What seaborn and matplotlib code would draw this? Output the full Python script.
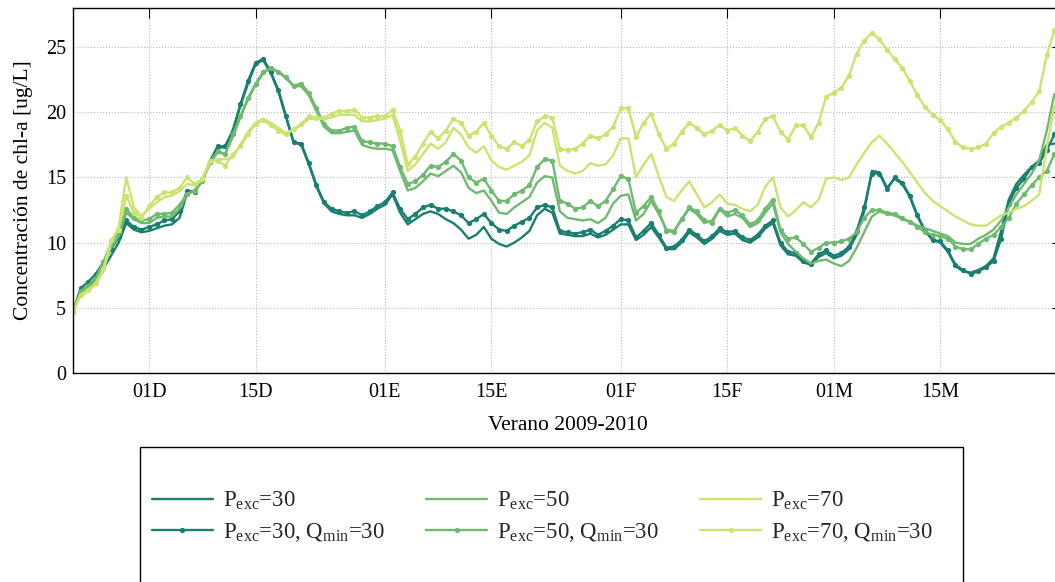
import matplotlib
matplotlib.use("Agg")
import numpy as np
import pandas as pd
import seaborn as sns
import matplotlib.pyplot as plt
from matplotlib.lines import Line2D
from matplotlib.patches import Rectangle

sns.set_theme(style="white")
plt.rcParams["font.family"] = ["Liberation Serif", "DejaVu Serif"]
plt.rcParams["mathtext.fontset"] = "custom"
plt.rcParams["mathtext.rm"] = "Liberation Serif"
plt.rcParams["mathtext.it"] = "Liberation Serif:italic"

# ---------------- data ----------------
dates = pd.date_range("2009-11-21", periods=130, freq="D")

tick_dates = pd.to_datetime(["2009-12-01", "2009-12-15", "2010-01-01", "2010-01-15",
                             "2010-02-01", "2010-02-15", "2010-03-01", "2010-03-15"])
tick_labels = ["01D", "15D", "01E", "15E", "01F", "15F", "01M", "15M"]
y_ticks = [0, 5, 10, 15, 20, 25]

labels = [r"P$_{\rm exc}$=30", r"P$_{\rm exc}$=30, Q$_{\rm min}$=30",
          r"P$_{\rm exc}$=50", r"P$_{\rm exc}$=50, Q$_{\rm min}$=30",
          r"P$_{\rm exc}$=70", r"P$_{\rm exc}$=70, Q$_{\rm min}$=30"]

p30 = [4.7, 6.2, 6.6, 7.1, 8.0, 9.0, 10.0, 11.5, 11.0, 10.8,
       10.9, 11.1, 11.3, 11.4, 11.9, 13.8, 14.0, 14.8, 16.2, 17.3,
       17.3, 18.5, 20.5, 22.2, 23.7, 24.0, 23.0, 21.6, 19.6, 17.7,
       17.5, 16.0, 14.3, 13.0, 12.4, 12.2, 12.1, 12.1, 11.9, 12.2,
       12.6, 12.9, 13.7, 12.3, 11.4, 11.8, 12.2, 12.4, 12.2, 11.8,
       11.5, 11.0, 10.3, 10.6, 11.2, 10.3, 9.9, 9.7, 10.0, 10.4,
       10.9, 12.1, 12.6, 12.3, 10.7, 10.6, 10.5, 10.5, 10.7, 10.4,
       10.6, 11.0, 11.4, 11.4, 10.2, 10.6, 11.2, 10.4, 9.5, 9.5,
       10.0, 10.8, 10.4, 9.9, 10.3, 10.9, 10.6, 10.7, 10.2, 10.0,
       10.4, 11.1, 11.5, 9.8, 9.1, 9.0, 8.5, 8.3, 8.9, 9.2,
       8.8, 9.0, 9.5, 10.6, 12.4, 15.5, 15.4, 14.2, 14.9, 14.5,
       13.5, 12.0, 10.9, 10.2, 10.0, 9.3, 8.2, 7.8, 7.7, 7.9,
       8.2, 8.8, 10.9, 13.3, 14.5, 15.2, 15.8, 16.3, 17.5, 17.6]

p30_q30 = [4.7, 6.5, 7.0, 7.6, 8.5, 9.5, 10.4, 11.7, 11.2, 11.0,
           11.2, 11.4, 11.7, 11.8, 12.4, 14.0, 13.9, 14.8, 16.2, 17.4,
           17.4, 18.6, 20.6, 22.4, 23.8, 24.1, 23.1, 21.7, 19.7, 17.7,
           17.6, 16.1, 14.4, 13.1, 12.6, 12.4, 12.3, 12.4, 12.1, 12.4,
           12.8, 13.1, 13.85, 12.6, 11.8, 12.2, 12.7, 12.9, 12.6, 12.6,
           12.4, 12.1, 11.5, 11.8, 12.2, 11.5, 11.0, 10.9, 11.3, 11.6,
           11.9, 12.7, 12.9, 12.7, 10.9, 10.8, 10.7, 10.8, 11.0, 10.6,
           10.9, 11.3, 11.8, 11.7, 10.4, 10.9, 11.5, 10.6, 9.6, 9.7,
           10.2, 11.0, 10.6, 10.1, 10.5, 11.1, 10.8, 10.9, 10.4, 10.2,
           10.6, 11.3, 11.7, 10.0, 9.3, 9.2, 8.6, 8.4, 9.1, 9.4,
           9.0, 9.2, 9.7, 10.9, 12.7, 15.3, 15.3, 14.1, 15.0, 14.6,
           13.6, 12.1, 10.9, 10.2, 10.1, 9.4, 8.3, 7.9, 7.6, 7.8,
           8.1, 8.6, 10.3, 13.0, 14.2, 14.9, 15.8, 16.1, 17.1, 18.3]

p50 = [4.7, 6.1, 6.5, 7.0, 8.2, 9.6, 10.5, 12.3, 11.8, 11.5,
       11.5, 11.9, 12.0, 12.0, 12.6, 13.7, 14.0, 14.7, 16.1, 16.9,
       16.8, 18.1, 19.6, 21.0, 22.1, 23.0, 23.4, 23.1, 22.6, 22.0,
       22.0, 21.3, 20.1, 18.9, 18.4, 18.4, 18.5, 18.6, 17.5, 17.3,
       17.2, 17.2, 17.1, 15.5, 14.0, 14.2, 14.7, 15.3, 15.1, 15.5,
       15.9, 15.4, 14.2, 13.8, 14.0, 13.2, 12.3, 12.2, 12.7, 13.1,
       13.5, 14.6, 15.1, 15.0, 12.4, 11.9, 11.8, 11.7, 11.8, 11.5,
       11.9, 13.0, 13.6, 13.7, 11.7, 12.2, 13.2, 12.2, 11.0, 10.9,
       11.8, 12.6, 12.2, 11.5, 11.7, 12.6, 12.0, 12.2, 11.9, 11.2,
       11.5, 12.3, 13.0, 10.8, 9.9, 9.3, 8.8, 8.4, 8.6, 8.7,
       8.4, 8.2, 8.6, 9.6, 10.8, 12.0, 12.4, 12.2, 12.1, 11.8,
       11.6, 11.3, 11.1, 10.9, 10.7, 10.5, 10.0, 9.9, 9.9, 10.3,
       10.6, 11.0, 11.7, 12.7, 13.7, 14.5, 15.3, 16.3, 18.6, 21.4]

p50_q30 = [4.7, 6.3, 6.7, 7.3, 8.5, 10.0, 10.8, 12.6, 11.9, 11.7,
           11.8, 12.2, 12.2, 12.3, 12.9, 13.7, 14.0, 14.7, 16.2, 17.0,
           16.8, 18.3, 19.7, 21.1, 22.2, 23.1, 23.4, 23.1, 22.7, 22.05,
           22.2, 21.5, 20.3, 19.1, 18.6, 18.6, 18.8, 18.9, 17.8, 17.7,
           17.6, 17.6, 17.4, 15.8, 14.5, 14.7, 15.2, 15.9, 15.8, 16.2,
           16.8, 16.3, 15.0, 14.6, 14.9, 14.0, 13.2, 13.2, 13.7, 14.0,
           14.4, 15.8, 16.4, 16.3, 13.2, 13.0, 12.6, 12.7, 13.2, 12.8,
           13.2, 14.1, 15.1, 14.9, 12.3, 12.8, 13.5, 12.4, 10.9, 10.8,
           11.8, 12.7, 12.4, 11.7, 11.5, 12.6, 12.3, 12.5, 12.1, 11.4,
           11.7, 12.6, 13.3, 11.0, 10.3, 10.4, 9.9, 9.3, 9.6, 10.0,
           10.0, 10.1, 10.3, 10.8, 11.9, 12.5, 12.5, 12.3, 12.2, 11.9,
           11.6, 11.2, 10.8, 10.6, 10.5, 10.3, 9.7, 9.5, 9.5, 9.9,
           10.3, 10.6, 11.2, 11.9, 13.0, 13.7, 14.4, 15.0, 15.5, 16.8]

p70 = [4.7, 5.9, 6.3, 6.8, 7.8, 10.0, 11.2, 15.0, 12.7, 12.05,
       12.6, 13.1, 13.5, 13.6, 13.95, 14.5, 14.4, 14.8, 16.2, 16.4,
       16.4, 16.5, 17.5, 18.5, 19.2, 19.5, 19.2, 18.8, 18.4, 18.7,
       19.0, 19.5, 19.5, 19.5, 19.6, 19.8, 19.8, 19.8, 19.3, 19.3,
       19.4, 19.5, 19.8, 17.8, 15.5, 16.0, 16.8, 17.6, 17.2, 17.7,
       18.8, 18.3, 17.3, 16.9, 17.4, 16.3, 15.8, 15.6, 15.9, 16.2,
       16.7, 18.6, 19.2, 18.8, 15.9, 15.5, 15.3, 15.5, 16.1, 15.9,
       16.0, 16.7, 18.0, 18.0, 15.0, 16.0, 16.8, 15.1, 13.5, 13.2,
       14.0, 14.7, 13.7, 12.7, 13.1, 13.7, 13.0, 12.9, 12.6, 12.4,
       12.9, 14.3, 15.0, 12.7, 12.0, 12.5, 13.1, 12.7, 13.3, 14.9,
       15.0, 14.8, 15.0, 16.0, 16.9, 17.7, 18.2, 17.6, 16.9, 16.2,
       15.4, 14.6, 13.8, 13.2, 12.8, 12.4, 12.0, 11.7, 11.4, 11.3,
       11.3, 11.7, 12.1, 12.3, 12.6, 12.8, 13.2, 13.7, 17.3, 20.5]

p70_q30 = [4.7, 6.0, 6.4, 6.9, 8.0, 10.2, 11.0, 13.6, 12.3, 11.9,
           12.8, 13.5, 13.85, 13.85, 14.2, 15.0, 14.5, 14.9, 16.3, 16.3,
           15.9, 16.8, 17.4, 18.3, 19.1, 19.4, 19.0, 18.6, 18.3, 18.7,
           19.1, 19.7, 19.6, 19.6, 19.9, 20.1, 20.1, 20.2, 19.6, 19.6,
           19.7, 19.7, 20.2, 18.6, 16.0, 16.6, 17.6, 18.5, 18.0, 18.6,
           19.5, 19.2, 18.2, 18.5, 19.2, 18.2, 17.4, 17.2, 17.7, 17.4,
           17.9, 19.3, 19.7, 19.6, 17.2, 17.1, 17.2, 17.6, 18.2, 18.0,
           18.3, 18.9, 20.3, 20.3, 18.1, 19.2, 19.9, 18.3, 17.2, 17.6,
           18.5, 19.2, 18.8, 18.3, 18.6, 19.0, 18.6, 18.8, 18.2, 17.8,
           18.5, 19.5, 19.7, 18.5, 17.9, 19.0, 19.0, 18.1, 19.2, 21.2,
           21.5, 21.9, 22.8, 24.5, 25.5, 26.1, 25.6, 24.8, 24.1, 23.4,
           22.4, 21.3, 20.4, 19.8, 19.4, 18.7, 17.7, 17.3, 17.2, 17.3,
           17.6, 18.4, 18.9, 19.2, 19.6, 20.1, 20.8, 21.6, 24.4, 26.3]

# ---------------- styling ----------------
c_dark, c_mid, c_light = "#1a7f6e", "#6fba71", "#cbe36f"
series = [
    (p30, c_dark, None), (p30_q30, c_dark, "o"),
    (p50, c_mid, None), (p50_q30, c_mid, "o"),
    (p70, c_light, None), (p70_q30, c_light, "o"),
]

fig = plt.figure(figsize=(10.55, 5.82), dpi=100)
ax = fig.add_axes([73 / 1055, 1 - 373 / 582, (1062 - 73) / 1055, (373 - 8) / 582])

for vals, color, marker in series:
    kw = dict(x=dates, y=vals, ax=ax, color=color, linewidth=1.7, legend=False)
    if marker:
        kw.update(marker=marker, markersize=3.8, markeredgewidth=0)
    sns.lineplot(**kw)

ax.set_xlim(pd.Timestamp("2009-11-21"), pd.Timestamp("2010-03-31"))
ax.set_ylim(0, 28)
ax.set_xticks(tick_dates)
ax.set_xticklabels(tick_labels)
ax.set_yticks(y_ticks)
ax.tick_params(direction="in", length=7, width=0.8, top=True, right=True,
               labelsize=14.5, colors="black", pad=5)
ax.tick_params(axis="x", pad=7)
ax.grid(True, linestyle=":", color="#b8b8b8", linewidth=0.8)
for s in ax.spines.values():
    s.set_color("black")
    s.set_linewidth(1.0)

ax.set_ylabel("Concentración de chl-a [ug/L]", fontsize=15.5, labelpad=9, color="black")
ax.set_xlabel("Verano 2009-2010", fontsize=15.5, labelpad=10, color="black")

# legend box
fig.add_artist(Rectangle((140 / 1055, 1 - 600 / 582), (963 - 140) / 1055, (600 - 447) / 582,
                         transform=fig.transFigure, fill=False, edgecolor="black", linewidth=1.0))
handles = [Line2D([], [], color=c, linewidth=1.7, marker=m if m else None,
                  markersize=3.8, markeredgewidth=0) for _, c, m in series]
fig.legend(handles, labels, ncol=3, loc="upper left",
           bbox_to_anchor=(152 / 1055, 1 - 490 / 582), frameon=False,
           borderpad=0, borderaxespad=0, handlelength=2.66, handletextpad=0.44,
           columnspacing=1.8, labelspacing=0.38, fontsize=16.5)

fig.savefig("out.png", dpi=100)
